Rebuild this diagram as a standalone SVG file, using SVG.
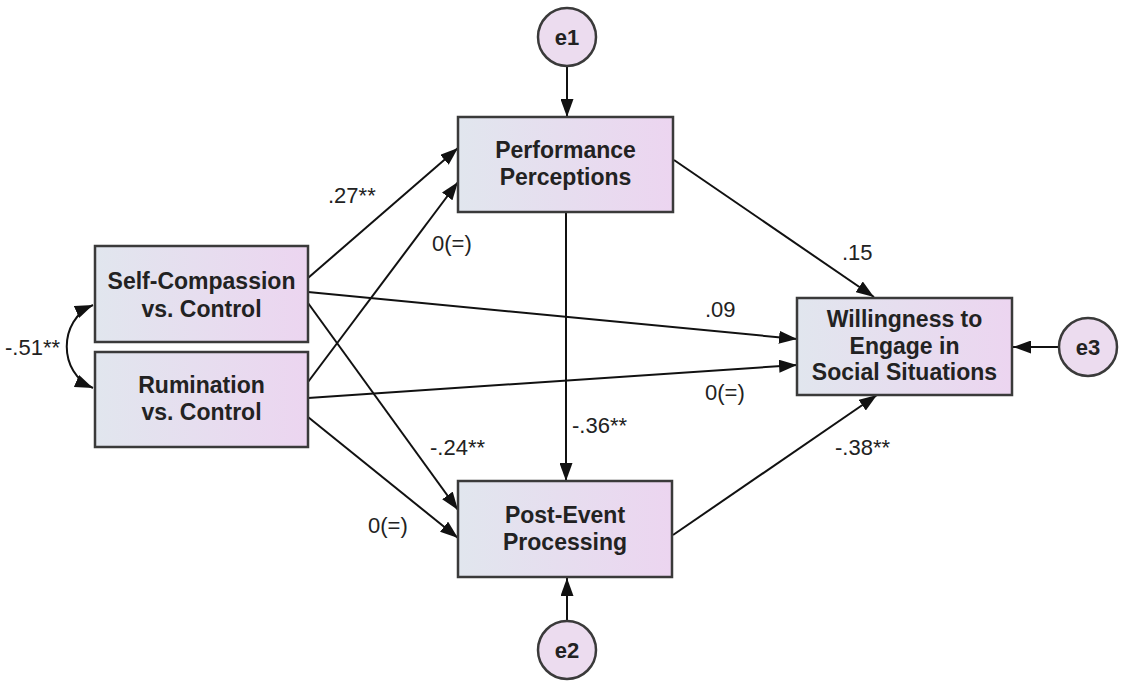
<svg xmlns="http://www.w3.org/2000/svg" width="1128" height="688" viewBox="0 0 1128 688">
<defs>
<linearGradient id="g" x1="0" y1="0" x2="1" y2="0">
<stop offset="0" stop-color="#e1e6ee"/>
<stop offset="1" stop-color="#ecd5f0"/>
</linearGradient>
<marker id="ah" viewBox="0 0 18 13" refX="18" refY="6.5" markerWidth="18" markerHeight="13" markerUnits="userSpaceOnUse" orient="auto-start-reverse">
<path d="M0,0 L18,6.5 L0,13 z" fill="#111"/>
</marker>
<style>
.box{fill:url(#g);stroke:#3a3a3a;stroke-width:2.5}
.circ{fill:#ecdcef;stroke:#3a3a3a;stroke-width:2.5}
.bt{font-family:"Liberation Sans",Arial,sans-serif;font-weight:bold;font-size:23px;fill:#222;text-anchor:middle}
.et{font-family:"Liberation Sans",Arial,sans-serif;font-weight:bold;font-size:22px;fill:#222;text-anchor:middle}
.lb{font-family:"Liberation Sans",Arial,sans-serif;font-size:22px;fill:#222}
.c{fill:none;stroke:#111;stroke-width:2;marker-end:url(#ah)}
</style>
</defs>
<rect width="1128" height="688" fill="#fff"/>
<g id="connectors">
<line class="c" x1="567" y1="66" x2="567" y2="117"/>
<line class="c" x1="567" y1="621" x2="567" y2="578"/>
<line class="c" x1="1059" y1="347" x2="1013" y2="347"/>
<line class="c" x1="308" y1="278" x2="458" y2="148"/>
<line class="c" x1="308" y1="292" x2="797" y2="339"/>
<line class="c" x1="308" y1="303" x2="458" y2="510"/>
<line class="c" x1="308" y1="382" x2="458" y2="182"/>
<line class="c" x1="308" y1="398" x2="797" y2="365"/>
<line class="c" x1="308" y1="417" x2="458" y2="538"/>
<line class="c" x1="674" y1="160" x2="874" y2="297"/>
<line class="c" x1="566" y1="212" x2="566" y2="481"/>
<line class="c" x1="673" y1="535" x2="877" y2="395"/>
<path class="c" d="M93,305 C58,320 58,373 93,388" marker-start="url(#ah)"/>
</g>
<g id="labels">
<text class="lb" x="328" y="203">.27**</text>
<text class="lb" x="432" y="251">0(=)</text>
<text class="lb" x="842" y="260">.15</text>
<text class="lb" x="705" y="317">.09</text>
<text class="lb" x="705" y="400">0(=)</text>
<text class="lb" x="572" y="433">-.36**</text>
<text class="lb" x="430" y="455">-.24**</text>
<text class="lb" x="835" y="455">-.38**</text>
<text class="lb" x="368" y="533">0(=)</text>
<text class="lb" x="5" y="355">-.51**</text>
</g>
<g id="sc">
<rect class="box" x="95" y="246" width="213" height="96"/>
<text class="bt" x="201.5" y="289">Self-Compassion</text>
<text class="bt" x="201.5" y="317">vs. Control</text>
</g>
<g id="rum">
<rect class="box" x="95" y="352" width="213" height="95"/>
<text class="bt" x="201.5" y="393">Rumination</text>
<text class="bt" x="201.5" y="420">vs. Control</text>
</g>
<g id="pp">
<rect class="box" x="458" y="117" width="215" height="95"/>
<text class="bt" x="565.5" y="158">Performance</text>
<text class="bt" x="565.5" y="185">Perceptions</text>
</g>
<g id="pep">
<rect class="box" x="458" y="481" width="214" height="96"/>
<text class="bt" x="565" y="523">Post-Event</text>
<text class="bt" x="565" y="550">Processing</text>
</g>
<g id="wil">
<rect class="box" x="797" y="298" width="215" height="97"/>
<text class="bt" x="904.5" y="327">Willingness to</text>
<text class="bt" x="904.5" y="354">Engage in</text>
<text class="bt" x="904.5" y="380">Social Situations</text>
</g>
<g id="e1">
<circle class="circ" cx="567" cy="37" r="29"/>
<text class="et" x="567" y="45">e1</text>
</g>
<g id="e2">
<circle class="circ" cx="567" cy="650" r="29"/>
<text class="et" x="567" y="658">e2</text>
</g>
<g id="e3">
<circle class="circ" cx="1088" cy="347" r="29"/>
<text class="et" x="1088" y="355">e3</text>
</g>
</svg>
